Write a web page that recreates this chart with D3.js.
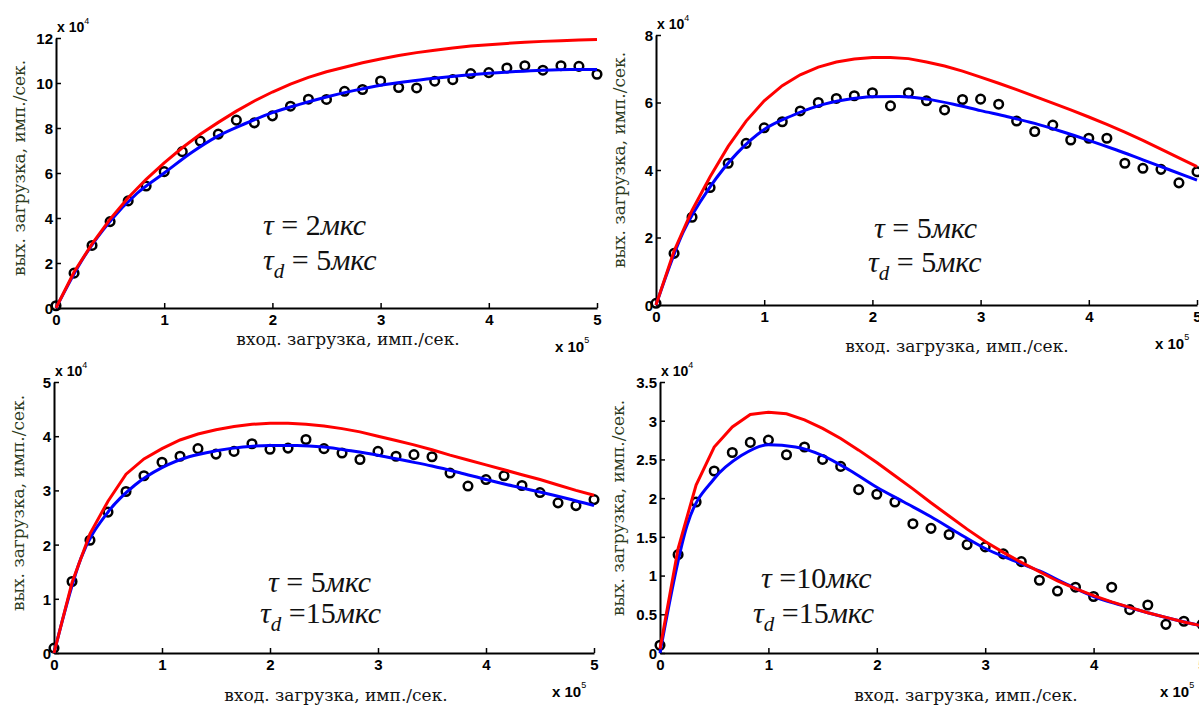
<!DOCTYPE html>
<html>
<head>
<meta charset="utf-8">
<script src="https://cdn.jsdelivr.net/npm/d3@7"></script>
<style>
  body { margin: 0; background: #fff; }
  svg { display: block; }
  .serif { font-family: "Liberation Serif", "Times New Roman", Times, serif; }
  .wide { font-family: "DejaVu Serif", serif; }
  .sans { font-family: "Liberation Sans", Arial, Helvetica, sans-serif; }
  .bold { font-weight: 700; }
  .ital { font-style: italic; }
</style>
</head>
<body>
<svg id="chart" width="1199" height="706"></svg>
<script>
// x positions of measured points and of the fitted curve (x 10^5)
const xPts = [0, 0.167, 0.333, 0.5, 0.667, 0.833, 1, 1.167, 1.333, 1.5, 1.667, 1.833, 2, 2.167, 2.333, 2.5,
  2.667, 2.833, 3, 3.167, 3.333, 3.5, 3.667, 3.833, 4, 4.167, 4.333, 4.5, 4.667, 4.833, 5];
const xFit = [0, 0.25, 0.5, 0.75, 1, 1.25, 1.5, 1.75, 2, 2.25, 2.5, 2.75, 3, 3.25, 3.5, 3.75, 4, 4.25, 4.5, 4.75, 5];

// panel 1: tau = 2, tau_d = 5  (y x 10^4)
const pts1 = [0.1, 1.55, 2.78, 3.84, 4.76, 5.42, 6.06, 6.95, 7.42, 7.73, 8.35, 8.23, 8.54, 8.97, 9.28, 9.27,
  9.63, 9.71, 10.09, 9.8, 9.78, 10.08, 10.15, 10.42, 10.46, 10.67, 10.77, 10.57, 10.77, 10.74, 10.39];
const theory1 = [0, 1.6, 2.85, 3.95, 4.9, 5.72, 6.45, 7.12, 7.72, 8.25, 8.75, 9.2, 9.6, 9.95, 10.25, 10.5,
  10.7, 10.9, 11.07, 11.22, 11.35, 11.46, 11.56, 11.64, 11.7, 11.76, 11.81, 11.85, 11.88, 11.91, 11.93];
const fit1 = [0, 2.2, 3.85, 5.1, 6.0, 6.9, 7.65, 8.2, 8.68, 9.05, 9.38, 9.66, 9.9, 10.07, 10.21, 10.33,
  10.43, 10.51, 10.57, 10.6, 10.6];

// panel 2: tau = 5, tau_d = 5
const pts2 = [0.05, 1.53, 2.6, 3.48, 4.2, 4.79, 5.25, 5.43, 5.75, 6.0, 6.12, 6.2, 6.29, 5.9, 6.29, 6.05,
  5.78, 6.09, 6.1, 5.95, 5.45, 5.14, 5.33, 4.89, 4.94, 4.94, 4.2, 4.05, 4.02, 3.62, 3.95];
const theory2 = [0, 1.6, 2.8, 3.8, 4.7, 5.45, 6.05, 6.5, 6.82, 7.05, 7.2, 7.29, 7.33, 7.33, 7.3, 7.2,
  7.08, 6.93, 6.75, 6.57, 6.38, 6.18, 5.98, 5.78, 5.57, 5.35, 5.12, 4.88, 4.62, 4.36, 4.1];
const fit2 = [0, 2.15, 3.5, 4.5, 5.2, 5.6, 5.9, 6.08, 6.17, 6.18, 6.1, 5.95, 5.76, 5.58, 5.38, 5.14,
  4.88, 4.6, 4.3, 4.0, 3.7];

// panel 3: tau = 5, tau_d = 15
const pts3 = [0.09, 1.32, 2.08, 2.6, 2.98, 3.27, 3.52, 3.63, 3.77, 3.67, 3.72, 3.86, 3.76, 3.78, 3.94, 3.77,
  3.69, 3.57, 3.72, 3.63, 3.66, 3.62, 3.32, 3.08, 3.2, 3.27, 3.09, 2.96, 2.77, 2.72, 2.83];
const theory3 = [0, 1.3, 2.2, 2.8, 3.3, 3.58, 3.77, 3.93, 4.04, 4.12, 4.18, 4.22, 4.24, 4.24, 4.22, 4.19,
  4.14, 4.08, 4.0, 3.92, 3.84, 3.75, 3.65, 3.56, 3.47, 3.38, 3.29, 3.2, 3.1, 3.0, 2.91];
const fit3 = [0, 1.75, 2.6, 3.1, 3.42, 3.62, 3.73, 3.8, 3.83, 3.83, 3.8, 3.73, 3.65, 3.55, 3.45, 3.33,
  3.2, 3.08, 2.97, 2.85, 2.72];

// panel 4: tau = 10, tau_d = 15
const pts4 = [0.1, 1.27, 1.95, 2.35, 2.59, 2.72, 2.75, 2.56, 2.66, 2.5, 2.41, 2.11, 2.05, 1.95, 1.67, 1.61,
  1.53, 1.4, 1.37, 1.28, 1.18, 0.94, 0.8, 0.85, 0.73, 0.85, 0.56, 0.62, 0.37, 0.41, 0.37];
const theory4 = [0.05, 1.35, 2.17, 2.66, 2.92, 3.08, 3.11, 3.09, 3.01, 2.9, 2.77, 2.62, 2.46, 2.29, 2.12, 1.94,
  1.77, 1.6, 1.44, 1.3, 1.17, 1.05, 0.93, 0.83, 0.74, 0.66, 0.59, 0.52, 0.46, 0.4, 0.35];
const fit4 = [0, 1.65, 2.25, 2.55, 2.69, 2.66, 2.55, 2.36, 2.14, 1.95, 1.76, 1.55, 1.35, 1.2, 1.06, 0.89,
  0.73, 0.62, 0.52, 0.43, 0.35];

// tick labels
const xTicks = [0, 1, 2, 3, 4, 5];
const yTicks1 = [0, 2, 4, 6, 8, 10, 12];
const yTicks2 = [0, 2, 4, 6, 8];
const yTicks3 = [0, 1, 2, 3, 4, 5];
const yTicks4 = [0, 0.5, 1, 1.5, 2, 2.5, 3, 3.5];

const xLabel = 'вход. загрузка, имп./сек.';
const yLabel = 'вых. загрузка, имп./сек.';

// annotation values: [tau, tau_d]
const params = [['2', '5'], ['5', '5'], ['5', '15'], ['10', '15']];

// Layout of the four panels (pixel frame)
const panels = [
  { pts: pts1, theory: theory1, fit: fit1, yTicks: yTicks1, par: params[0],
    x0: 56, x1: 597, y0: 308, y1: 38, ylx: 19, yly: 168, xlx: 348, xly: 345,
    ann: [263, 235, 263, 270], sp: [' ', ' '] },
  { pts: pts2, theory: theory2, fit: fit2, yTicks: yTicks2, par: params[1],
    x0: 656, x1: 1197, y0: 305, y1: 35, ylx: 619, yly: 160, xlx: 957, xly: 352,
    ann: [874, 238, 868, 272], sp: [' ', ' '] },
  { pts: pts3, theory: theory3, fit: fit3, yTicks: yTicks3, par: params[2],
    x0: 54, x1: 594, y0: 653, y1: 382, ylx: 18, yly: 503, xlx: 336, xly: 701,
    ann: [268, 592, 260, 623], sp: [' ', ''] },
  { pts: pts4, theory: theory4, fit: fit4, yTicks: yTicks4, par: params[3],
    x0: 660, x1: 1202, y0: 653, y1: 382, ylx: 618, yly: 508, xlx: 966, xly: 701,
    ann: [761, 588, 753, 623], sp: ['', ''] }
];

const svg = d3.select('#chart');

panels.forEach(p => {
  const yMax = p.yTicks[p.yTicks.length - 1];
  const x = d3.scaleLinear().domain([0, 5]).range([p.x0, p.x1]);
  const y = d3.scaleLinear().domain([0, yMax]).range([p.y0, p.y1]);
  const g = svg.append('g');

  // axes
  const xAxis = g.append('g')
    .attr('transform', `translate(0,${p.y0})`)
    .call(d3.axisBottom(x).tickValues(xTicks).tickFormat(d3.format('d'))
      .tickSizeInner(-5).tickSizeOuter(0).tickPadding(6));
  const yAxis = g.append('g')
    .attr('transform', `translate(${p.x0},0)`)
    .call(d3.axisLeft(y).tickValues(p.yTicks).tickFormat(d => String(d))
      .tickSizeInner(-5).tickSizeOuter(0).tickPadding(3));
  [xAxis, yAxis].forEach(a => {
    a.attr('font-family', null).attr('font-size', 15).attr('class', 'sans bold');
    a.select('.domain').attr('stroke', '#000').attr('stroke-width', 2);
    a.selectAll('.tick line').attr('stroke', '#000').attr('stroke-width', 1.5);
    a.selectAll('.tick text').attr('fill', '#000');
  });
  yAxis.selectAll('.tick text').attr('dy', '0.36em');

  // measured points
  g.append('g').selectAll('circle')
    .data(p.pts)
    .enter()
    .append('circle')
    .attr('cx', (d, i) => x(xPts[i]))
    .attr('cy', d => y(d))
    .attr('r', 4.3)
    .attr('fill', 'none')
    .attr('stroke', '#000')
    .attr('stroke-width', 2.5);

  // fitted (blue) and theoretical (red) curves
  const fitLine = d3.line()
    .x((d, i) => x(xFit[i]))
    .y(d => y(d))
    .curve(d3.curveMonotoneX);
  const theoryLine = d3.line()
    .x((d, i) => x(xPts[i]))
    .y(d => y(d));

  g.append('path')
    .datum(p.fit)
    .attr('d', fitLine)
    .attr('fill', 'none')
    .attr('stroke', '#0000ff')
    .attr('stroke-width', 3);
  g.append('path')
    .datum(p.theory)
    .attr('d', theoryLine)
    .attr('fill', 'none')
    .attr('stroke', '#ff0000')
    .attr('stroke-width', 3);

  // exponent labels
  const e4 = g.append('text')
    .attr('class', 'sans bold')
    .attr('x', p.x0 + 1)
    .attr('y', p.y1 - 6)
    .attr('font-size', 14)
    .attr('fill', '#000');
  e4.append('tspan').text('x 10');
  e4.append('tspan').attr('dy', -8).attr('font-size', 9).attr('font-weight', 400).text('4');

  const e5 = g.append('text')
    .attr('class', 'sans bold')
    .attr('x', p.x1 - 42)
    .attr('y', p.y0 + 44)
    .attr('font-size', 15)
    .attr('fill', '#000');
  e5.append('tspan').text('x 10');
  e5.append('tspan').attr('dy', -9).attr('font-size', 9).attr('font-weight', 400).text('5');

  // axis titles
  g.append('text')
    .attr('class', 'wide')
    .attr('x', p.xlx)
    .attr('y', p.xly)
    .attr('text-anchor', 'middle')
    .attr('font-size', 17)
    .attr('fill', '#111')
    .text(xLabel);
  g.append('text')
    .attr('class', 'wide')
    .attr('transform', `translate(${p.ylx},${p.yly}) rotate(-90)`)
    .attr('text-anchor', 'middle')
    .attr('dy', '0.35em')
    .attr('font-size', 17)
    .attr('fill', '#2c3a1c')
    .text(yLabel);

  // annotation
  const t1 = g.append('text')
    .attr('class', 'serif')
    .attr('x', p.ann[0])
    .attr('y', p.ann[1])
    .attr('font-size', 30)
    .attr('fill', '#111');
  t1.append('tspan').attr('class', 'ital').text('τ');
  t1.append('tspan').text(' =' + p.sp[0] + p.par[0]);
  t1.append('tspan').attr('class', 'ital').text('мкс');

  const t2 = g.append('text')
    .attr('class', 'serif')
    .attr('x', p.ann[2])
    .attr('y', p.ann[3])
    .attr('font-size', 30)
    .attr('fill', '#111');
  t2.append('tspan').attr('class', 'ital').text('τ');
  t2.append('tspan').attr('class', 'ital').attr('font-size', 21).attr('dy', 8).text('d');
  t2.append('tspan').attr('dy', -8).text(' =' + p.sp[1] + p.par[1]);
  t2.append('tspan').attr('class', 'ital').text('мкс');
});
</script>
</body>
</html>
